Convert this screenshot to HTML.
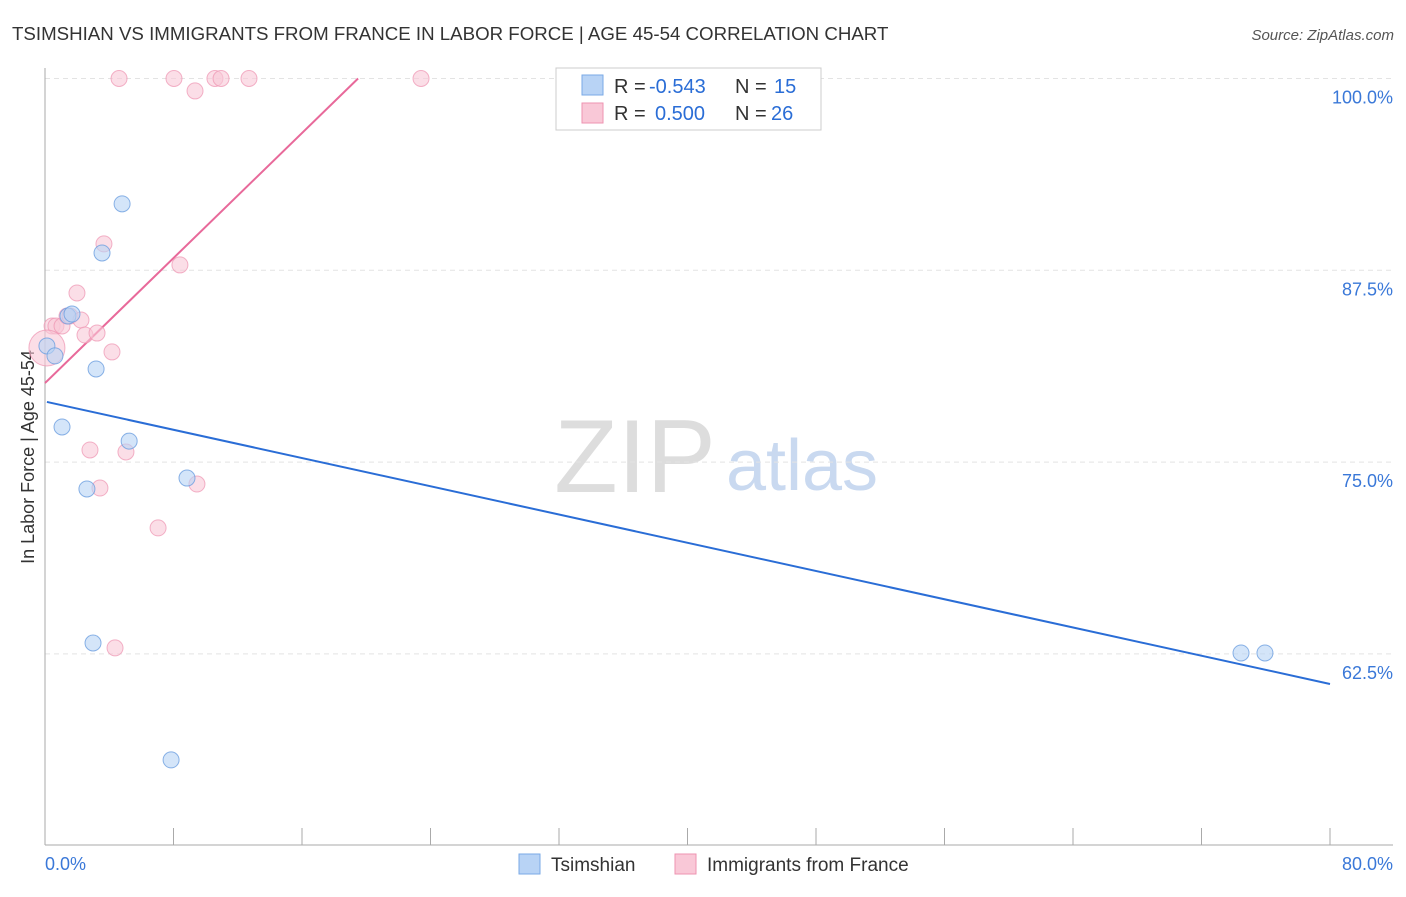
<!DOCTYPE html>
<html><head><meta charset="utf-8"><style>
body{margin:0;background:#fff;font-family:"Liberation Sans",sans-serif}
svg text{font-family:"Liberation Sans",sans-serif}
</style></head><body>
<svg id="c" width="1406" height="892" viewBox="0 0 1406 892" xmlns="http://www.w3.org/2000/svg">
<text x="12" y="40" font-size="18.7" fill="#333">TSIMSHIAN VS IMMIGRANTS FROM FRANCE IN LABOR FORCE | AGE 45-54 CORRELATION CHART</text>
<text x="1394" y="40" font-size="15" fill="#555" text-anchor="end" font-style="italic">Source: ZipAtlas.com</text>
<text x="34" y="457" font-size="18" fill="#333" text-anchor="middle" transform="rotate(-90 34 457)">In Labor Force | Age 45-54</text>
<g>
<text x="635" y="492" font-size="104" fill="#ddd" text-anchor="middle" font-family="Liberation Serif,serif">ZIP</text>
<text x="802" y="490" font-size="72" fill="#c9d9f0" text-anchor="middle">atlas</text>
</g>
<g id="grid"></g><g id="axes"></g><g id="trend"></g><g id="pts"></g>
<g>
<rect x="556" y="68" width="265" height="62" fill="#fff" stroke="#ccc"/>
<rect x="582" y="75" width="21" height="20" fill="#b8d3f5" stroke="#7aaae6"/>
<text x="614" y="93" font-size="20" fill="#333">R =</text>
<text x="649" y="93" font-size="20" fill="#2a6dd6">-0.543</text>
<text x="735" y="93" font-size="20" fill="#333">N =</text>
<text x="774" y="93" font-size="20" fill="#2a6dd6">15</text>
<rect x="582" y="103" width="21" height="20" fill="#f9c8d7" stroke="#ee93b0"/>
<text x="614" y="120" font-size="20" fill="#333">R =</text>
<text x="655" y="120" font-size="20" fill="#2a6dd6">0.500</text>
<text x="735" y="120" font-size="20" fill="#333">N =</text>
<text x="771" y="120" font-size="20" fill="#2a6dd6">26</text>
</g>
<g>
<rect x="519" y="854" width="21" height="20" fill="#b8d3f5" stroke="#7aaae6"/>
<text x="551" y="871" font-size="19" fill="#333">Tsimshian</text>
<rect x="675" y="854" width="21" height="20" fill="#f9c8d7" stroke="#ee93b0"/>
<text x="707" y="871" font-size="19" fill="#333">Immigrants from France</text>
</g>
</svg>
<script>
const yTicks=[100,87.5,75,62.5];
const yTickLabels=["100.0%","87.5%","75.0%","62.5%"];
const xLabels=["0.0%","80.0%"];
const blueX=[0.12,0.62,1.06,1.43,1.68,2.61,2.99,3.18,3.55,4.80,5.24,7.85,8.84,74.46,75.95];
const blueY=[82.57,81.92,77.29,84.52,84.65,73.25,63.21,81.07,88.63,91.83,76.37,55.59,73.96,62.56,62.56];
const pinkX=[0.44,0.68,1.06,1.37,1.56,1.99,2.24,2.49,2.80,3.24,3.42,3.67,4.17,4.36,4.61,5.04,7.04,8.03,8.40,9.34,9.46,10.58,10.96,12.70,23.41,0.12];
const pinkY=[83.87,83.87,83.87,84.52,84.52,86.02,84.26,83.28,75.79,83.41,73.31,89.22,82.18,62.89,100,75.66,70.71,100,87.85,99.19,73.57,100,100,100,100,82.44];
const blueTrend=[0.12,78.92,80,60.54];
const pinkTrend=[0,80.15,19.49,100];
const X=v=>45+v/80*1285, Y=v=>78.5+(100-v)/12.5*191.8;
const NS="http://www.w3.org/2000/svg";
function mk(p,t,a){const e=document.createElementNS(NS,t);for(const k in a)e.setAttribute(k,a[k]);document.getElementById(p).appendChild(e);return e;}
yTicks.forEach((t,i)=>{
 const g=mk('grid','line',{x1:45,x2:1393,y1:Y(t),y2:Y(t),stroke:'#e3e3e3','stroke-dasharray':'5,4'});
 
 
 const l=mk('grid','text',{x:1393,y:Y(t)+25,'font-size':18,fill:'#3a78d8','text-anchor':'end'});
 l.textContent=yTickLabels[i];
 
 
});
let a=mk('axes','line',{x1:45,x2:45,y1:68,y2:845,stroke:'#aaa'});


a=mk('axes','line',{x1:45,x2:1393,y1:845,y2:845,stroke:'#aaa'});


for(let k=0;k<=10;k++){const t=mk('axes','line',{x1:X(k*8),x2:X(k*8),y1:828,y2:845,stroke:'#aaa'});
 
 }
[[0,'start'],[80,'end']].forEach((d,i)=>{const t=mk('axes','text',{x:i?1393:45,y:870,'font-size':18,fill:'#3a78d8','text-anchor':d[1]});
 t.textContent=xLabels[i];
 
 });
let tl=mk('trend','line',{x1:X(blueTrend[0]),y1:Y(blueTrend[1]),x2:X(blueTrend[2]),y2:Y(blueTrend[3]),stroke:'#2a6dd6','stroke-width':2});


tl=mk('trend','line',{x1:X(pinkTrend[0]),y1:Y(pinkTrend[1]),x2:X(pinkTrend[2]),y2:Y(pinkTrend[3]),stroke:'#e8699a','stroke-width':2});


pinkX.forEach((v,i)=>{const c=mk('pts','circle',{cx:X(v),cy:Y(pinkY[i]),r:i==pinkX.length-1?18:8,fill:'#f9c8d7','fill-opacity':0.6,stroke:'#ee93b0','stroke-opacity':0.7});
 
 });
blueX.forEach((v,i)=>{const c=mk('pts','circle',{cx:X(v),cy:Y(blueY[i]),r:8,fill:'#b8d3f5','fill-opacity':0.6,stroke:'#6d9fe0','stroke-opacity':0.8});
 
 });
</script>
</body></html>
